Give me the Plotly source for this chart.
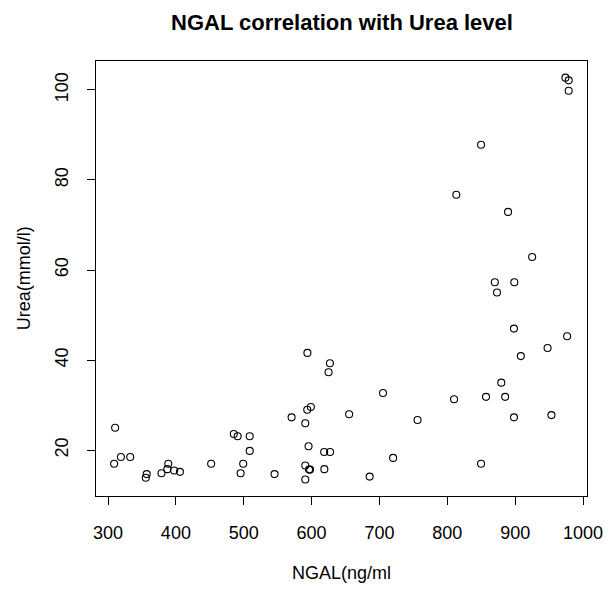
import plotly.graph_objects as go

ngal = [310.5, 309, 319, 332.7, 357, 355.7, 378.8, 388.8, 387.4, 397.5, 406, 452,
        485.3, 491, 508.8, 508.8, 499.2, 495.4, 545.4, 570.5,
        593.8, 627, 625, 705.2, 593.6, 598.9, 590.7, 655.3, 756.1, 595.5, 618.5, 627.2,
        720.1, 590.7, 596.3, 597.7, 618.8, 590.7, 685.5, 849.7, 809.9, 857, 879.5, 885.2,
        898.2, 953.4, 898.2, 908.3, 947.7, 976.5,
        849.7, 813.2, 889.5, 925, 870, 898.7, 873.2, 974, 978.8, 978.8]
urea = [25.0, 17.0, 18.5, 18.5, 14.7, 13.9, 14.9, 17.0, 15.8, 15.5, 15.2, 17.0,
        23.6, 23.1, 23.1, 19.85, 17.0, 14.9, 14.7, 27.3,
        41.6, 39.3, 37.3, 32.7, 29.0, 29.6, 26.0, 28.0, 26.7, 20.9, 19.6, 19.6,
        18.3, 16.6, 15.7, 15.7, 15.8, 13.5, 14.15, 17.0, 31.3, 31.85, 35.0, 31.85,
        27.3, 27.8, 47.0, 40.9, 42.7, 45.3,
        87.8, 76.7, 72.9, 62.9, 57.3, 57.3, 55.0, 102.7, 102.1, 99.8]

x_ticks = [300, 400, 500, 600, 700, 800, 900, 1000]
y_ticks = [20, 40, 60, 80, 100]

title_text = "NGAL correlation with Urea level"
x_label = "NGAL(ng/ml"
y_label = "Urea(mmol/l)"

FONT = "Liberation Sans, Arial, sans-serif"

fig = go.Figure()
fig.add_trace(go.Scatter(
    x=ngal, y=urea, mode="markers",
    marker=dict(symbol="circle-open", size=7, color="black", line=dict(width=1.1, color="black")),
    showlegend=False, hoverinfo="x+y",
))

axis_common = dict(
    showgrid=False, zeroline=False, showline=True, linecolor="black", linewidth=1,
    mirror=True, ticks="outside", ticklen=8, tickwidth=1, tickcolor="black",
    tickfont=dict(family=FONT, size=18, color="black"),
)

fig.update_layout(
    width=615, height=590,
    margin=dict(l=96, r=17, t=61, b=94),
    paper_bgcolor="white", plot_bgcolor="white",
    xaxis=dict(range=[282.3, 1005.8], tickvals=x_ticks, ticktext=[str(v) for v in x_ticks],
               ticklabelstandoff=12, **axis_common),
    yaxis=dict(range=[9.84, 106.4], tickvals=y_ticks, ticktext=[str(v) for v in y_ticks],
               tickangle=-90, ticklabelstandoff=12, **axis_common),
    annotations=[
        dict(text="<b>" + title_text + "</b>", xref="paper", yref="paper", x=0.5, y=1.089,
             xanchor="center", yanchor="middle", showarrow=False,
             font=dict(family=FONT, size=22, color="black")),
        dict(text=x_label, xref="paper", yref="paper", x=0.5, y=-0.178,
             xanchor="center", yanchor="middle", showarrow=False,
             font=dict(family=FONT, size=18, color="black")),
        dict(text=y_label, xref="paper", yref="paper", x=-0.147, y=0.5, textangle=-90,
             xanchor="center", yanchor="middle", showarrow=False,
             font=dict(family=FONT, size=18, color="black")),
    ],
)

fig.write_html("out.html")
